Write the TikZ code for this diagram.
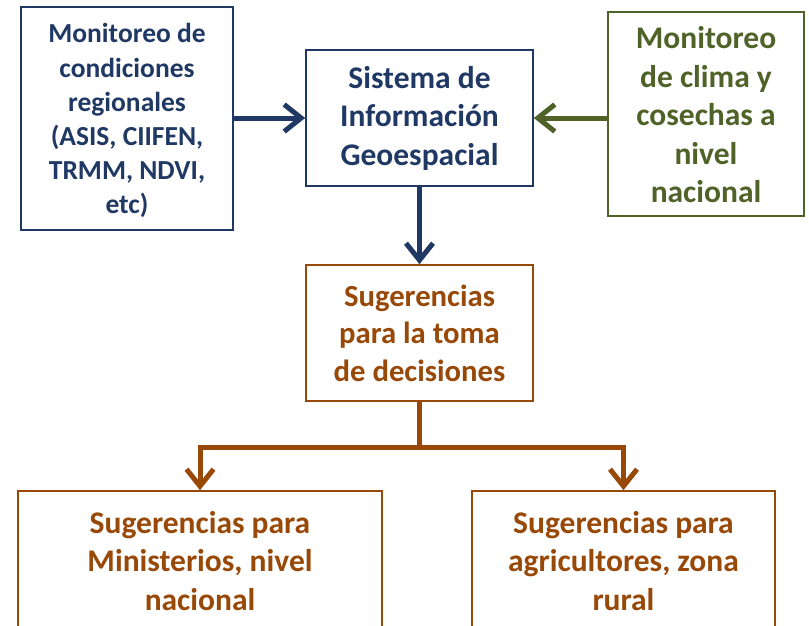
\documentclass[tikz,border=0pt]{standalone}
\usepackage{fontspec}
\setmainfont{Carlito}
\usetikzlibrary{arrows.meta}
\definecolor{dblue}{HTML}{1F3864}
\definecolor{dgreen}{HTML}{4F6228}
\definecolor{dorange}{HTML}{984807}
\tikzset{
  box/.style={draw, line width=1.6pt, fill=white, inner sep=0pt, align=center,
    font=\bfseries\fontsize{31.5}{38.5}\selectfont},
  conn/.style={line width=5pt, -{Straight Barb[length=17pt,width=27pt]}},
}
\begin{document}
\begin{tikzpicture}[x=1pt,y=-1pt]
\useasboundingbox (0,0) rectangle (809,626);
\clip (0,0) rectangle (809,626);
\node[box, draw=dblue, text=dblue, minimum width=212pt, minimum height=223pt,
  font=\bfseries\fontsize{27.5}{34.2}\selectfont] (A) at (127,118.5)
  {\rule{0pt}{24pt}Monitoreo de\\condiciones\\regionales\\(ASIS, CIIFEN,\\TRMM, NDVI,\\etc)};
\node[box, draw=dblue, text=dblue, minimum width=227pt, minimum height=136pt] (B) at (419.5,118)
  {Sistema de\\Información\\Geoespacial};
\node[box, draw=dgreen, text=dgreen, minimum width=196pt, minimum height=204pt] (C) at (706,114)
  {\rule{0pt}{24pt}Monitoreo\\de clima y\\cosechas a\\nivel\\nacional};
\node[box, draw=dorange, text=dorange, minimum width=227pt, minimum height=136pt,
  font=\bfseries\fontsize{30.7}{37.5}\selectfont] (D) at (419.5,333)
  {Sugerencias\\para la toma\\de decisiones};
\node[box, draw=dorange, text=dorange, minimum width=364pt, minimum height=140pt] (E) at (200,561)
  {Sugerencias para\\Ministerios, nivel\\nacional};
\node[box, draw=dorange, text=dorange, minimum width=303pt, minimum height=140pt] (F) at (623.5,561)
  {Sugerencias para\\agricultores, zona\\rural};
\draw[conn, dblue] (A.east |- B.west) -- (B.west);
\draw[conn, dgreen] (B.east -| C.west) -- (B.east);
\draw[conn, dblue] (B.south) -- (D.north);
\draw[conn, dorange] (D.south) -- ++(0,46) -| (E.north);
\draw[conn, dorange] (D.south) -- ++(0,46) -| (F.north);
\end{tikzpicture}
\end{document}
